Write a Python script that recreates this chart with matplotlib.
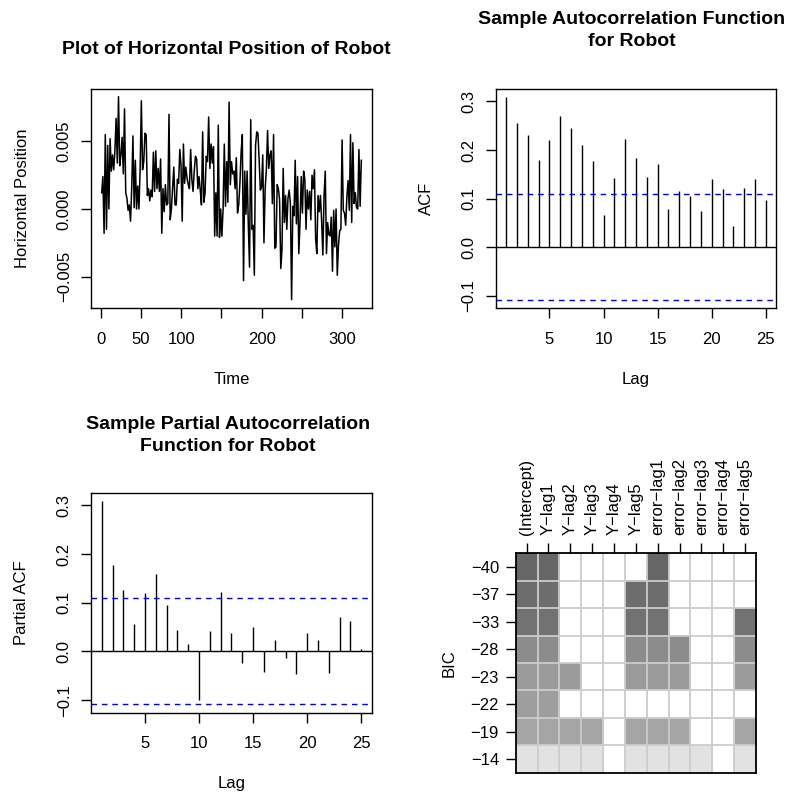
import numpy as np
import matplotlib
matplotlib.use("Agg")
import matplotlib.pyplot as plt

plt.rcParams['font.family'] = ['Liberation Sans', 'DejaVu Sans']

# horizontal position of robot, in thousandths
robot = [1.2, 2.4, -1.8, 5.5, -1.5, 4.7, 0.0, 5.2, 2.8, 4.0, 2.9, 4.3, 6.7, 3.4, 8.3,
         3.2, 4.0, 5.3, 2.6, 7.4, 1.2, 0.8, -0.1, 0.3, -0.9, 1.6, 5.4, 0.1, 3.6, 0.0,
         1.7, 0.0, 3.0, 8.0, 2.9, 3.5, 5.6, 5.5, 1.0, 1.5, 0.6, 1.4, 0.9, 4.2, 1.3,
         4.3, 1.5, 3.0, 1.3, 3.7, -1.8, 1.5, -0.2, 1.8, 0.3, 0.4, 7.0, -0.8, 0.0, 1.5,
         3.1, 0.3, 0.3, 2.2, 1.9, 4.4, 3.2, -0.9, 4.8, 1.9, 3.1, 2.3, 1.8, 1.5, 4.4,
         2.2, 1.3, 2.8, 3.9, 3.7, 1.5, 2.4, 1.4, 0.3, 5.7, 0.5, 1.2, 3.9, 3.5, 6.8,
         3.0, 4.8, 3.4, 4.6, -2.0, 1.2, -2.0, 6.2, -2.1, 0.0, -2.0, 0.0, 4.8, 0.2, 3.5,
         0.5, 7.9, 1.8, 3.5, 2.6, 2.8, 1.5, 3.8, -0.3, 0.3, 1.9, 4.2, 5.5, -5.3, 2.8,
         -0.4, 2.8, -1.2, -4.3, 6.6, -1.5, -1.2, -4.9, 4.7, 5.7, 5.6, 3.6, 1.4, 1.6, 4.0,
         -2.5, 1.5, 2.9, 5.8, 3.0, 4.0, 4.3, 0.4, 5.5, -2.9, -2.8, 1.8, 1.5, 0.7, -4.4,
         -3.0, 3.0, -1.0, 1.0, -1.5, 0.8, 1.4, 0.4, -6.7, 0.2, -0.5, 3.6, -1.1, 2.4, -3.3,
         -1.0, 2.4, -0.3, 2.8, 2.2, -1.5, 1.4, 0.0, 1.3, -0.8, 2.5, 1.5, 2.9, -2.2, -3.3,
         1.0, -0.2, 1.0, -0.9, -3.4, 1.0, 2.8, -3.3, -1.0, -1.9, -2.0, -0.6, -4.6, -0.1, -2.8,
         0.0, -4.9, -2.7, -1.6, -1.5, 5.1, -0.1, -0.3, -1.2, 0.9, 2.1, -0.1, 5.5, -1.0, 4.9,
         0.4, 1.2, 0.1, 0.0, 4.4, 0.2, 3.6]
n_obs = 324

lags = list(range(1, 26))
acf_vals = [0.308, 0.255, 0.231, 0.179, 0.220, 0.270, 0.246, 0.211, 0.177, 0.066,
            0.143, 0.222, 0.184, 0.145, 0.171, 0.078, 0.115, 0.106, 0.074, 0.141,
            0.120, 0.043, 0.122, 0.141, 0.098]
pacf_vals = [0.308, 0.177, 0.127, 0.057, 0.120, 0.158, 0.096, 0.044, 0.016, -0.100,
             0.042, 0.122, 0.037, -0.023, 0.051, -0.042, 0.023, -0.014, -0.046, 0.038,
             0.023, -0.044, 0.071, 0.062, 0.006]

# best subsets by BIC
terms = ['(Intercept)', 'Y\u2212lag1', 'Y\u2212lag2', 'Y\u2212lag3', 'Y\u2212lag4', 'Y\u2212lag5',
         'error\u2212lag1', 'error\u2212lag2', 'error\u2212lag3', 'error\u2212lag4', 'error\u2212lag5']
bic_labels = ['\u221240', '\u221237', '\u221233', '\u221228', '\u221223', '\u221222', '\u221219', '\u221214']
included = [
    [1, 1, 0, 0, 0, 0, 1, 0, 0, 0, 0],
    [1, 1, 0, 0, 0, 1, 1, 0, 0, 0, 0],
    [1, 1, 0, 0, 0, 1, 1, 0, 0, 0, 1],
    [1, 1, 0, 0, 0, 1, 1, 1, 0, 0, 1],
    [1, 1, 1, 0, 0, 1, 1, 1, 0, 0, 1],
    [1, 1, 0, 0, 0, 0, 0, 0, 0, 0, 0],
    [1, 1, 1, 1, 0, 1, 1, 1, 0, 0, 1],
    [1, 1, 1, 1, 0, 1, 1, 1, 1, 0, 1],
]
row_grey = [0.40, 0.43, 0.45, 0.55, 0.61, 0.62, 0.65, 0.89]

W, H = 791, 793
fig = plt.figure(figsize=(W / 100, H / 100), dpi=100)

def px_axes(left, top, right, bottom):
    return fig.add_axes([left / W, 1 - bottom / H, (right - left) / W, (bottom - top) / H])

def r_style(ax):
    for s in ax.spines.values():
        s.set_linewidth(1.0)
    ax.tick_params(direction='out', length=7, width=1.0, labelsize=12, pad=10)
    ax.tick_params(axis='y', pad=7)
    for lab in ax.get_yticklabels():
        lab.set_rotation(90)
        lab.set_va('center')

def minus(v, fmt):
    s = fmt.format(abs(v))
    return ('\u2212' + s) if v < 0 else s

ci = 1.96 / np.sqrt(n_obs)

# --- time series ---
ax1 = px_axes(91.3, 89, 371.7, 308.3)
t = np.linspace(1, n_obs, len(robot))
ax1.plot(t, np.array(robot) * 1e-3, color='black', lw=1.1)
ax1.set_xlim(-11.92, 336.92)
ax1.set_ylim(-0.00734, 0.00887)
ax1.set_xticks([0, 50, 100, 150, 200, 250, 300])
ax1.set_xticklabels(['0', '50', '100', '', '200', '', '300'])
yt = [-0.005, 0.0, 0.005]
ax1.set_yticks(yt)
ax1.set_yticklabels([minus(v, '{:.3f}') for v in yt])
r_style(ax1)
ax1.set_xlabel('Time', fontsize=12, labelpad=18)
ax1.set_ylabel('Horizontal Position', fontsize=12, labelpad=19)
fig.text(226 / W, 1 - 50 / H, 'Plot of Horizontal Position of Robot',
         ha='center', va='center', fontsize=14, fontweight='bold')

# --- ACF / PACF ---
def corr_panel(ax, vals):
    ax.vlines(lags, 0, vals, color='black', lw=1.0)
    ax.axhline(0, color='black', lw=1.0)
    for c in (ci, -ci):
        ax.axhline(c, color='blue', lw=1.0, dashes=(4, 3.5))
    ax.set_xlim(0.04, 25.96)
    ax.set_ylim(-0.1256, 0.3247)
    ax.set_xticks([5, 10, 15, 20, 25])
    yv = [-0.1, 0.0, 0.1, 0.2, 0.3]
    ax.set_yticks(yv)
    ax.set_yticklabels([minus(v, '{:.1f}') for v in yv])
    r_style(ax)
    ax.set_xlabel('Lag', fontsize=12, labelpad=18)

ax2 = px_axes(495.7, 89.3, 776.3, 308.3)
corr_panel(ax2, acf_vals)
ax2.set_ylabel('ACF', fontsize=12, labelpad=20)
fig.text(632 / W, 1 - 30.5 / H, 'Sample Autocorrelation Function\nfor Robot',
         ha='center', va='center', fontsize=14, fontweight='bold', linespacing=1.4)

ax3 = px_axes(91.3, 493.3, 371.7, 712.6)
corr_panel(ax3, pacf_vals)
ax3.set_ylabel('Partial ACF', fontsize=12, labelpad=20)
fig.text(228 / W, 1 - 435.5 / H, 'Sample Partial Autocorrelation\nFunction for Robot',
         ha='center', va='center', fontsize=14, fontweight='bold', linespacing=1.4)

# --- BIC subsets ---
ax4 = px_axes(515.7, 553.3, 756.0, 772.7)
inc = np.array(included, dtype=float)
g = np.array(row_grey)[:, None]
img = np.where(inc > 0, g, 1.0)
rgb = np.repeat(img[:, :, None], 3, axis=2)
ax4.imshow(rgb, aspect='auto', interpolation='nearest',
           extent=(-0.5, len(terms) - 0.5, len(bic_labels) - 0.5, -0.5))
ax4.vlines(np.arange(0.5, len(terms) - 0.5), -0.5, len(bic_labels) - 0.5, color='#cccccc', lw=1.3)
ax4.hlines(np.arange(0.5, len(bic_labels) - 0.5), -0.5, len(terms) - 0.5, color='#cccccc', lw=1.3)
ax4.set_xlim(-0.5, len(terms) - 0.5)
ax4.set_ylim(len(bic_labels) - 0.5, -0.5)
ax4.xaxis.tick_top()
ax4.set_xticks(range(len(terms)))
ax4.set_xticklabels(terms, rotation=90, va='bottom', ha='center')
ax4.set_yticks(range(len(bic_labels)))
ax4.set_yticklabels(bic_labels)
for s in ax4.spines.values():
    s.set_linewidth(1.3)
ax4.tick_params(direction='out', length=7, width=1.0, labelsize=12)
ax4.tick_params(axis='x', pad=6)
ax4.tick_params(axis='y', pad=5)
ax4.set_ylabel('BIC', fontsize=12, labelpad=10)

fig.savefig('out.png', dpi=100)
